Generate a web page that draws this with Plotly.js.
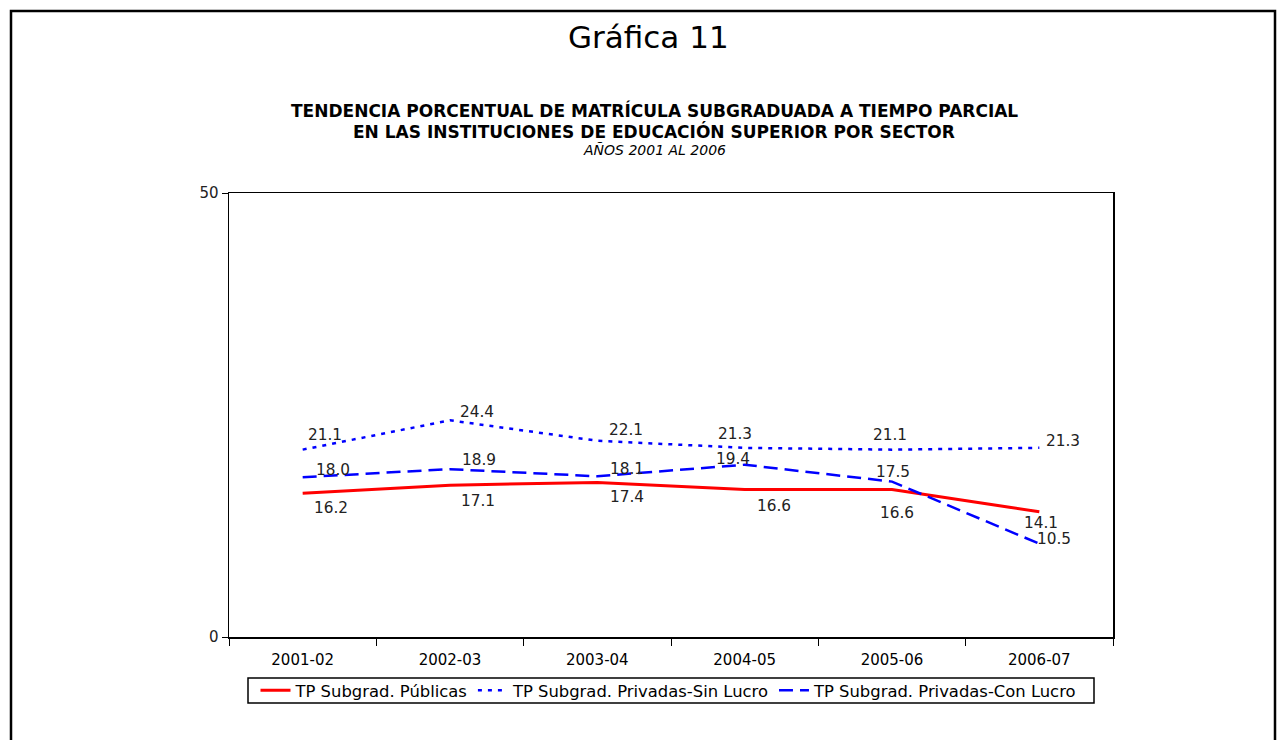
<!DOCTYPE html>
<html>
<head>
<meta charset="utf-8">
<script src="https://cdn.plot.ly/plotly-3.0.1.min.js"></script>
<style>
  html, body { margin: 0; padding: 0; background: #fff; }
  #chart { width: 1278px; height: 740px; }
</style>
</head>
<body>
<div id="chart"></div>
<script>
// ---- data ----
const years = ["2001-02", "2002-03", "2003-04", "2004-05", "2005-06", "2006-07"];
const publicas = [16.2, 17.1, 17.4, 16.6, 16.6, 14.1];
const sinLucro = [21.1, 24.4, 22.1, 21.3, 21.1, 21.3];
const conLucro = [18.0, 18.9, 18.1, 19.4, 17.5, 10.5];
const seriesNames = ["TP Subgrad. Públicas", "TP Subgrad. Privadas-Sin Lucro", "TP Subgrad. Privadas-Con Lucro"];
const yTicks = [0, 50];

// ---- label nudges (pixels) ----
const offPub = [[28, -15], [28, -16], [30, -15], [29, -16], [5, -23], [2, -11]];
const offSin = [[22, 15], [27, 8], [29, 11], [-10, 14], [-2, 15], [24, 7]];
const offCon = [[30, 7], [29, 9], [30, 7], [-12, 6], [1, 10], [15, 5]];

const labelFont = { family: "DejaVu Sans", size: 15.3, color: "#222" };

function labels(vals, offs) {
  return vals.map((v, i) => ({
    x: years[i], y: v, xref: "x", yref: "y",
    text: v.toFixed(1), showarrow: false,
    xshift: offs[i][0], yshift: offs[i][1],
    font: labelFont
  }));
}

const traces = [
  { x: years, y: publicas, name: seriesNames[0], type: "scatter", mode: "lines",
    line: { color: "#FF0000", width: 3 } },
  { x: years, y: sinLucro, name: seriesNames[1], type: "scatter", mode: "lines",
    line: { color: "#0000FF", width: 2.5, dash: "4px,6px" } },
  { x: years, y: conLucro, name: seriesNames[2], type: "scatter", mode: "lines",
    line: { color: "#0000FF", width: 2.5, dash: "14px,7px" } }
];

const W = 1278, H = 740, L = 229, R = 165, T = 193, B = 103;
const pw = W - L - R, ph = H - T - B;
const px = v => (v - L) / pw;
const py = v => (H - B - v) / ph;

const annotations = [
  { text: "Gráfica 11", xref: "paper", yref: "paper", x: px(648), y: py(37),
    xanchor: "center", yanchor: "middle", showarrow: false,
    font: { family: "DejaVu Sans", size: 31, color: "#000" } },
  { text: "<b>TENDENCIA PORCENTUAL DE MATRÍCULA SUBGRADUADA A TIEMPO PARCIAL</b>", xref: "paper", yref: "paper",
    x: px(654), y: py(110), xanchor: "center", yanchor: "middle", showarrow: false,
    font: { family: "DejaVu Sans", size: 17, color: "#000" } },
  { text: "<b>EN LAS INSTITUCIONES DE EDUCACIÓN SUPERIOR POR SECTOR</b>", xref: "paper", yref: "paper",
    x: px(654), y: py(131), xanchor: "center", yanchor: "middle", showarrow: false,
    font: { family: "DejaVu Sans", size: 17, color: "#000" } },
  { text: "<i>AÑOS 2001 AL 2006</i>", xref: "paper", yref: "paper",
    x: px(654), y: py(150), xanchor: "center", yanchor: "middle", showarrow: false,
    font: { family: "DejaVu Sans", size: 14, color: "#000" } }
].concat(labels(publicas, offPub), labels(sinLucro, offSin), labels(conLucro, offCon));

const layout = {
  width: W, height: H,
  margin: { l: L, r: R, t: T, b: B, pad: 0 },
  paper_bgcolor: "#fff", plot_bgcolor: "#fff",
  showlegend: true,
  legend: {
    orientation: "h", x: px(669), xanchor: "center", y: py(690.5), yanchor: "middle",
    bgcolor: "rgba(0,0,0,0)", borderwidth: 0,
    font: { family: "DejaVu Sans", size: 16.4, color: "#000" },
    itemwidth: 30, tracegroupgap: 0
  },
  xaxis: {
    type: "category", range: [-0.5, 5.5], tickson: "boundaries",
    ticks: "outside", ticklen: 7, tickcolor: "#000", tickwidth: 1,
    ticklabelstandoff: 8,
    showline: true, linecolor: "#000", linewidth: 1.5, mirror: true,
    showgrid: false, zeroline: false, fixedrange: true,
    tickfont: { family: "DejaVu Sans", size: 15, color: "#000" }
  },
  yaxis: {
    range: [0, 50], tickvals: yTicks, ticktext: yTicks.map(String),
    ticks: "outside", ticklen: 6, tickcolor: "#000", tickwidth: 1,
    showline: true, linecolor: "#000", linewidth: 1.5, mirror: true,
    showgrid: false, zeroline: false, fixedrange: true,
    tickfont: { family: "DejaVu Sans", size: 15, color: "#222" }
  },
  annotations: annotations,
  shapes: [
    { type: "rect", xref: "paper", yref: "paper",
      x0: px(11), x1: px(1275), y0: py(760), y1: py(11),
      line: { color: "#000", width: 2.5 }, fillcolor: "rgba(0,0,0,0)", layer: "below" },
    { type: "rect", xref: "paper", yref: "paper",
      x0: px(248), x1: px(1094), y0: py(703), y1: py(678),
      line: { color: "#000", width: 1.5 }, fillcolor: "rgba(0,0,0,0)", layer: "below" }
  ]
};

Plotly.newPlot("chart", traces, layout, { displayModeBar: false, staticPlot: true });
</script>
</body>
</html>
